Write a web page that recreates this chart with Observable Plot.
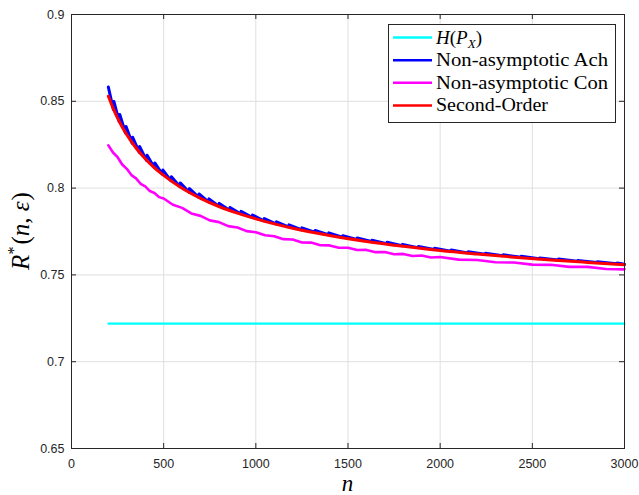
<!DOCTYPE html>
<html>
<head>
<meta charset="utf-8">
<script src="https://cdn.jsdelivr.net/npm/d3@7"></script>
<script src="https://cdn.jsdelivr.net/npm/@observablehq/plot@0.6"></script>
<style>
  html, body { margin: 0; padding: 0; background: #ffffff; }
  #chart { position: relative; width: 639px; height: 495px; }
  #chart svg { display: block; }
</style>
</head>
<body>
<div id="chart"></div>
<script>
// Tick values
const xTicks = [0, 500, 1000, 1500, 2000, 2500, 3000];
const yTicks = [0.65, 0.7, 0.75, 0.8, 0.85, 0.9];

// Entropy H(P_X): constant reference level
const entropyN = [200, 3000];
const entropyR = [0.7219, 0.7219];

// Non-asymptotic achievability bound (lattice sawtooth)
const achN = [200, 227, 230, 259, 262, 293, 296, 329, 332, 367, 370, 407, 410, 449, 452, 493, 496,
  539, 542, 587, 590, 637, 640, 689, 692, 743, 746, 799, 802, 857, 860, 917, 920, 979, 982,
  1043, 1046, 1109, 1112, 1177, 1180, 1247, 1250, 1319, 1322, 1393, 1396, 1469, 1472, 1547, 1550,
  1627, 1630, 1709, 1712, 1793, 1796, 1879, 1882, 1967, 1970, 2057, 2060, 2149, 2152, 2243, 2246,
  2339, 2342, 2437, 2440, 2537, 2540, 2639, 2642, 2743, 2746, 2849, 2852, 2957, 2960, 3000];
const achR = [0.8582, 0.8453, 0.8499, 0.8382, 0.8424, 0.8317, 0.8355, 0.8259, 0.8293, 0.8207, 0.8239,
  0.8160, 0.8189, 0.8118, 0.8145, 0.8080, 0.8104, 0.8043, 0.8066, 0.8009, 0.8030, 0.7977, 0.7997,
  0.7948, 0.7966, 0.7921, 0.7938, 0.7896, 0.7912, 0.7873, 0.7888, 0.7852, 0.7866, 0.7832, 0.7845,
  0.7812, 0.7824, 0.7794, 0.7806, 0.7777, 0.7788, 0.7760, 0.7771, 0.7746, 0.7756, 0.7732, 0.7742,
  0.7717, 0.7726, 0.7704, 0.7713, 0.7692, 0.7700, 0.7680, 0.7688, 0.7668, 0.7676, 0.7657, 0.7664,
  0.7646, 0.7653, 0.7637, 0.7644, 0.7627, 0.7633, 0.7619, 0.7625, 0.7610, 0.7616, 0.7602, 0.7608,
  0.7593, 0.7598, 0.7586, 0.7591, 0.7578, 0.7583, 0.7571, 0.7576, 0.7564, 0.7569, 0.7562];

// Non-asymptotic converse bound
const conN = [200, 225, 250, 275, 300, 325, 350, 375, 400, 425, 450, 475, 500, 550, 600, 650, 700,
  750, 800, 850, 900, 950, 1000, 1050, 1100, 1150, 1200, 1250, 1300, 1350, 1400, 1450, 1500, 1550,
  1600, 1650, 1700, 1750, 1800, 1850, 1900, 1950, 2000, 2100, 2200, 2300, 2400, 2500, 2600, 2700,
  2800, 2900, 3000];
const conR = [0.8246, 0.8205, 0.8178, 0.8136, 0.8111, 0.8075, 0.8056, 0.8025, 0.8010, 0.7983, 0.7972,
  0.7948, 0.7940, 0.7904, 0.7886, 0.7854, 0.7840, 0.7814, 0.7804, 0.7781, 0.7773, 0.7752, 0.7746,
  0.7728, 0.7723, 0.7706, 0.7704, 0.7687, 0.7686, 0.7671, 0.7670, 0.7656, 0.7656, 0.7643, 0.7644,
  0.7631, 0.7632, 0.7619, 0.7621, 0.7609, 0.7612, 0.7600, 0.7603, 0.7588, 0.7586, 0.7573, 0.7571,
  0.7559, 0.7558, 0.7546, 0.7546, 0.7534, 0.7532];

// Second-order approximation
const soN = [200, 225, 250, 275, 300, 350, 400, 450, 500, 600, 700, 800, 900, 1000, 1200, 1400,
  1600, 1800, 2000, 2200, 2400, 2600, 2800, 3000];
const soR = [0.8529, 0.8462, 0.8403, 0.8352, 0.8307, 0.8231, 0.8169, 0.8117, 0.8073, 0.7999, 0.7941,
  0.7894, 0.7856, 0.7823, 0.7769, 0.7727, 0.7693, 0.7665, 0.7640, 0.7620, 0.7602, 0.7586, 0.7572, 0.7559];

const legendItems = [
  { key: "H", color: "#00ffff" },
  { key: "Non-asymptotic Ach", color: "#0000ff" },
  { key: "Non-asymptotic Con", color: "#ff00ff" },
  { key: "Second-Order", color: "#ff0000" }
];

const toRows = (ns, rs) => ns.map((n, i) => ({ n, r: rs[i] }));
const entropy = toRows(entropyN, entropyR);
const ach = toRows(achN, achR);
const con = toRows(conN, conR);
const so = toRows(soN, soR);

const W = 639, H = 495;
const mL = 71, mR = 15, mT = 14, mB = 47;
const innerW = W - mL - mR, innerH = H - mT - mB;
const tickLen = 5;
const axisColor = "#262626";

const chart = Plot.plot({
  width: W,
  height: H,
  marginLeft: mL,
  marginRight: mR,
  marginTop: mT,
  marginBottom: mB,
  style: { fontFamily: "'Liberation Sans', Arial, sans-serif", fontSize: "12.5px", color: axisColor, background: "#ffffff" },
  x: { domain: [0, 3000] },
  y: { domain: [0.65, 0.9] },
  marks: [
    Plot.gridX(xTicks, { stroke: "#dfdfdf", strokeOpacity: 1, strokeWidth: 1 }),
    Plot.gridY(yTicks, { stroke: "#dfdfdf", strokeOpacity: 1, strokeWidth: 1 }),
    Plot.line(entropy, { x: "n", y: "r", stroke: "#00ffff", strokeWidth: 2.2 }),
    Plot.line(ach, { x: "n", y: "r", stroke: "#0000ff", strokeWidth: 3, strokeLinejoin: "round" }),
    Plot.line(con, { x: "n", y: "r", stroke: "#ff00ff", strokeWidth: 2.6, strokeLinejoin: "round" }),
    Plot.line(so, { x: "n", y: "r", stroke: "#ff0000", strokeWidth: 3, curve: "monotone-x" }),
    // inward ticks on all four sides
    Plot.tickX(xTicks, { x: d => d, stroke: axisColor, insetTop: innerH - tickLen }),
    Plot.tickX(xTicks, { x: d => d, stroke: axisColor, insetBottom: innerH - tickLen }),
    Plot.tickY(yTicks, { y: d => d, stroke: axisColor, insetRight: innerW - tickLen }),
    Plot.tickY(yTicks, { y: d => d, stroke: axisColor, insetLeft: innerW - tickLen }),
    Plot.frame({ stroke: axisColor, strokeWidth: 1 }),
    Plot.axisX(xTicks, { tickSize: 0, tickPadding: 11, label: null, tickFormat: d => String(d) }),
    Plot.axisY(yTicks, { tickSize: 0, tickPadding: 7, label: null, tickFormat: d => String(+d.toFixed(2)) })
  ]
});

document.getElementById("chart").appendChild(chart);

// Axis titles and legend drawn in the same SVG
const svg = d3.select(chart);
const serif = "'Liberation Serif', 'Times New Roman', serif";

// x-axis title: n
svg.append("text")
  .attr("x", mL + innerW / 2)
  .attr("y", 491)
  .attr("text-anchor", "middle")
  .attr("font-family", serif)
  .attr("font-style", "italic")
  .attr("font-size", 23)
  .attr("fill", "#000")
  .text("n");

// y-axis title: R*(n, ε)
const yl = svg.append("text")
  .attr("transform", `translate(29, ${mT + innerH / 2}) rotate(-90)`)
  .attr("text-anchor", "middle")
  .attr("font-family", serif)
  .attr("font-size", 25)
  .attr("fill", "#000");
yl.append("tspan").attr("font-style", "italic").text("R");
yl.append("tspan").attr("font-size", 16).attr("dy", -10).text("*");
yl.append("tspan").attr("dy", 10).attr("dx", 2).text("(");
yl.append("tspan").attr("font-style", "italic").text("n");
yl.append("tspan").text(", ");
yl.append("tspan").attr("font-style", "italic").text("ε");
yl.append("tspan").attr("dx", 1).text(")");

// Legend
const lgX = 388, lgY = 24, lgW = 227, lgH = 98;
const lg = svg.append("g").attr("text-anchor", "start");
lg.append("rect")
  .attr("x", lgX + 0.5).attr("y", lgY + 0.5)
  .attr("width", lgW).attr("height", lgH)
  .attr("fill", "#ffffff").attr("stroke", axisColor).attr("stroke-width", 1);

const rowStep = 22.6, firstRow = 37.6;
const textWidths = { "Non-asymptotic Ach": 172, "Non-asymptotic Con": 172, "Second-Order": 112 };
legendItems.forEach((item, i) => {
  const cy = firstRow + i * rowStep;
  lg.append("line")
    .attr("x1", 393).attr("x2", 432)
    .attr("y1", cy).attr("y2", cy)
    .attr("stroke", item.color).attr("stroke-width", 2.5);
  const t = lg.append("text")
    .attr("x", 436).attr("y", cy + 6)
    .attr("text-anchor", "start")
    .attr("font-family", serif)
    .attr("font-size", 19)
    .attr("fill", "#000");
  if (item.key === "H") {
    t.append("tspan").attr("font-style", "italic").text("H");
    t.append("tspan").text("(");
    t.append("tspan").attr("font-style", "italic").text("P");
    t.append("tspan").attr("font-style", "italic").attr("font-size", 13).attr("dy", 4).text("X");
    t.append("tspan").attr("dy", -4).text(")");
  } else {
    t.text(item.key);
    t.attr("textLength", textWidths[item.key]).attr("lengthAdjust", "spacingAndGlyphs");
  }
});
</script>
</body>
</html>
